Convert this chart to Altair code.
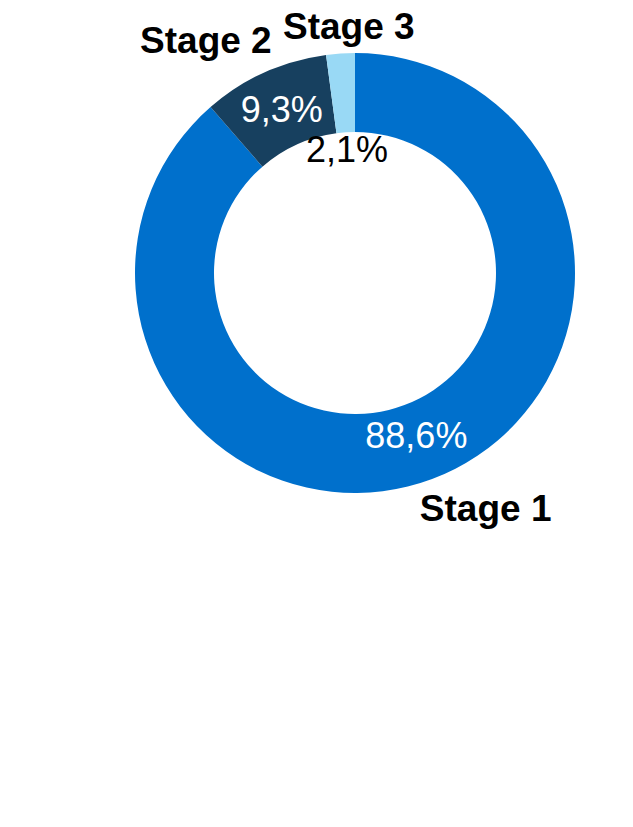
import altair as alt
import pandas as pd

# ---- data ----
stages = ["Stage 1", "Stage 2", "Stage 3"]
shares = [88.6, 9.3, 2.1]
share_labels = ["88,6%", "9,3%", "2,1%"]
changes = [1.07, -1.04, -0.03]
change_labels = ["+1,07 pp", "-1,04 pp", "-0,03 pp"]

# ---- style ----
colors = ["#0070CC", "#17405F", "#99D9F5"]
bar_color = "#969696"
FONT = "Liberation Sans"
CX, CY = 330, 264
R_OUT, R_IN = 220, 141

donut_df = pd.DataFrame({"stage": stages, "share": shares, "label": share_labels})
bar_df = pd.DataFrame({"stage": stages, "change": changes, "label": change_labels})

arc = alt.Chart(donut_df).mark_arc(outerRadius=R_OUT, innerRadius=R_IN).encode(
    theta=alt.Theta("share:Q", stack=True),
    order=alt.Order("stage:N", sort="ascending"),
    color=alt.Color("stage:N", scale=alt.Scale(domain=stages, range=colors), legend=None),
    x=alt.value(CX),
    y=alt.value(CY),
)

mids = alt.Chart(donut_df).transform_joinaggregate(
    total="sum(share)"
).transform_window(
    cum="sum(share)", sort=[alt.SortField("stage", order="ascending")], frame=[None, 0]
).transform_calculate(
    mid="2*PI*(datum.cum - datum.share/2)/datum.total"
)


def pct_label(stage, r, color):
    return mids.transform_filter(alt.datum.stage == stage).mark_text(
        radius=r, font=FONT, fontSize=36, color=color, align="center", baseline="middle"
    ).encode(
        theta=alt.Theta("mid:Q", scale=None),
        text="label:N", x=alt.value(CX), y=alt.value(CY),
    )


def stage_label(stage, r, dx):
    return mids.transform_filter(alt.datum.stage == stage).mark_text(
        radius=r, dx=dx, font=FONT, fontSize=37, fontWeight="bold", color="black",
        align="center", baseline="middle"
    ).encode(
        theta=alt.Theta("mid:Q", scale=None),
        text="stage:N", x=alt.value(CX), y=alt.value(CY),
    )


donut = alt.layer(
    arc,
    pct_label("Stage 1", 175, "white"),
    pct_label("Stage 2", 178, "white"),
    pct_label("Stage 3", 122, "black"),
    stage_label("Stage 1", 253, 42),
    stage_label("Stage 2", 253, -45),
    stage_label("Stage 3", 246, 10),
).resolve_scale(theta="independent").properties(width=600, height=520)

chart = donut.properties(
    padding={"left": 17, "top": 0, "right": 0, "bottom": 0}
).configure_view(strokeWidth=0)

chart.save("out.html", embed_options={"renderer": "svg", "actions": False})
